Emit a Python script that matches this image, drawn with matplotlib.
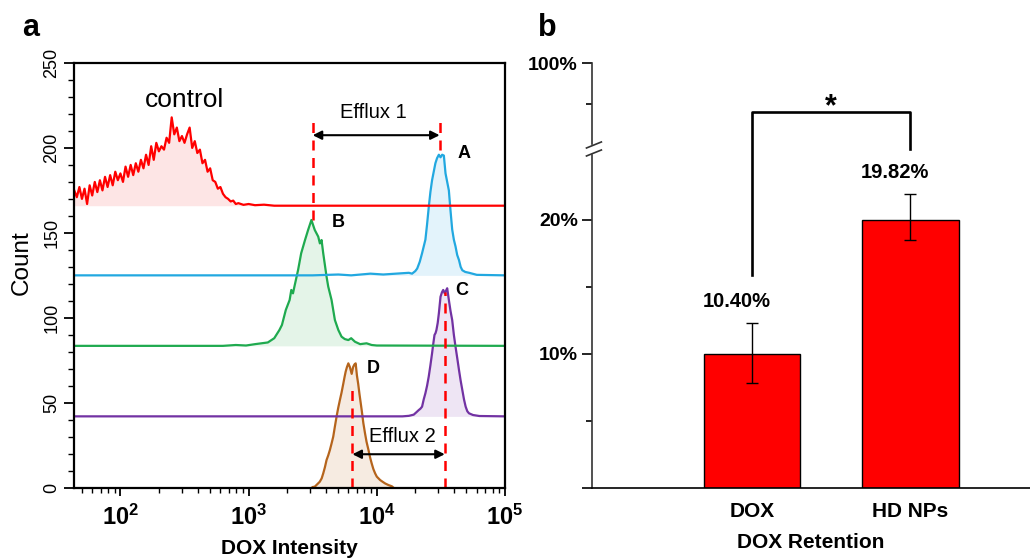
import numpy as np
import matplotlib
matplotlib.use('Agg')
import matplotlib.pyplot as plt
from matplotlib.ticker import LogLocator, NullFormatter

plt.rcParams['font.family'] = ['Liberation Sans', 'DejaVu Sans']
plt.rcParams['mathtext.fontset'] = 'custom'
plt.rcParams['mathtext.rm'] = 'Liberation Sans:bold'
plt.rcParams['mathtext.it'] = 'Liberation Sans:bold'
plt.rcParams['mathtext.bf'] = 'Liberation Sans:bold'

# ---- panel a: flow cytometry histograms (x given as log10 of intensity) ----
control_log = [1.64, 1.66, 1.68, 1.70, 1.72, 1.74, 1.76, 1.78, 1.80, 1.82,
               1.84, 1.86, 1.88, 1.90, 1.92, 1.94, 1.96, 1.98, 2.00, 2.02,
               2.04, 2.06, 2.08, 2.10, 2.12, 2.14, 2.16, 2.18, 2.20, 2.22,
               2.24, 2.26, 2.28, 2.30, 2.32, 2.34, 2.36, 2.38, 2.40, 2.42,
               2.44, 2.46, 2.48, 2.50, 2.52, 2.54, 2.56, 2.58, 2.60, 2.62,
               2.64, 2.66, 2.68, 2.70, 2.72, 2.74, 2.76, 2.78, 2.80, 2.82,
               2.84, 2.86, 2.88, 2.90, 2.92, 2.96, 3.00, 3.05, 3.12, 3.20, 5.00]
control_count = [175, 171, 177, 170, 176, 167, 178, 172, 180, 174,
                 181, 175, 183, 177, 184, 178, 186, 181, 185, 180,
                 189, 183, 190, 184, 191, 186, 193, 188, 196, 190,
                 201, 193, 203, 198, 201, 199, 206, 203, 218, 208,
                 212, 204, 207, 203, 208, 212, 200, 204, 197, 199,
                 191, 193, 186, 188, 181, 180, 176, 177, 173, 171,
                 170, 168.5, 169, 167, 167.5, 166.5, 167, 166.3, 166.6, 166, 166]
control_base = 166

a_log = [1.64, 3.50, 3.70, 3.80, 3.95, 4.05, 4.15, 4.25, 4.275, 4.30, 4.315,
         4.335, 4.353, 4.366, 4.379, 4.392, 4.405, 4.418, 4.431, 4.444, 4.457,
         4.470, 4.484, 4.497, 4.510, 4.523, 4.536, 4.549, 4.562, 4.575, 4.588,
         4.601, 4.614, 4.627, 4.641, 4.654, 4.667, 4.69, 4.72, 4.745, 4.78, 5.00]
a_count = [125, 125, 125.5, 125, 126, 125.5, 126, 126.5, 126, 127.5, 129,
           133, 138, 142, 146, 155, 165, 174, 181, 186, 191,
           194, 196, 194.5, 196, 195.5, 185, 180, 175, 163, 152,
           146, 142, 137, 134, 130, 128, 127, 126.5, 126, 125.3, 125]
a_base = 125

b_log = [1.64, 2.80, 2.90, 2.98, 3.05, 3.10, 3.15, 3.20, 3.24, 3.26, 3.29,
         3.32, 3.333, 3.346, 3.36, 3.386, 3.41, 3.44, 3.464, 3.49, 3.503,
         3.516, 3.543, 3.556, 3.569, 3.582, 3.608, 3.621, 3.647, 3.673, 3.70,
         3.725, 3.75, 3.778, 3.80, 3.83, 3.87, 3.92, 3.96, 4.00, 5.00]
b_count = [83.5, 83.5, 84, 83.7, 84.5, 85, 85.5, 88, 92.8, 95.8, 104.6,
           110.5, 116.4, 114.4, 119.3, 128.2, 138, 145.8, 151.7, 157.6, 154.6,
           151.7, 147.8, 143.8, 145.8, 138, 124.2, 118.4, 110.5, 98.7, 92.8,
           88.9, 87.5, 86.9, 88, 85.9, 84.5, 85, 84, 83.7, 83.5]
b_base = 83.5

c_log = [1.64, 4.20, 4.25, 4.288, 4.31, 4.327, 4.34, 4.353, 4.366, 4.379,
         4.392, 4.405, 4.418, 4.431, 4.44, 4.45, 4.458, 4.465, 4.475, 4.484,
         4.497, 4.508, 4.518, 4.53, 4.54, 4.549, 4.562, 4.575, 4.588, 4.601,
         4.614, 4.628, 4.641, 4.654, 4.667, 4.68, 4.693, 4.706, 4.719, 4.75,
         4.80, 5.00]
c_count = [42, 42, 42.3, 43, 44.5, 45.7, 46.5, 47.7, 52, 55.6,
           60, 65.4, 72, 79.1, 84.5, 89.9, 91, 92.8, 97, 102.6,
           112.4, 115, 116.4, 114.4, 116, 117.4, 110.5, 104, 98.7, 90,
           83, 76, 69.3, 63, 57.5, 52, 47.7, 45, 43.8, 42.8,
           42.2, 42]
c_base = 42

d_log = [3.50, 3.516, 3.535, 3.555, 3.57, 3.582, 3.595, 3.608, 3.621, 3.634,
         3.647, 3.66, 3.673, 3.686, 3.699, 3.712, 3.725, 3.739, 3.748, 3.757,
         3.767, 3.778, 3.79, 3.804, 3.815, 3.825, 3.835, 3.845, 3.855, 3.865,
         3.882, 3.895, 3.908, 3.92, 3.935, 3.947, 3.96, 3.973, 3.987, 4.00,
         4.026, 4.045, 4.065, 4.09, 4.118, 4.13]
d_count = [0.4, 0.6, 2, 3.5, 5.5, 8.4, 12, 16.3, 19, 22.2,
           26, 30, 36, 41.8, 47, 51.6, 56, 61.4, 65, 68.3,
           71, 73.2, 71, 67, 71, 72.5, 73.2, 66, 61, 55,
           45.7, 38, 32, 27, 22.2, 18, 14.3, 11, 8.4, 6.5,
           4.5, 3.5, 2.5, 1.6, 0.8, 0]
d_base = 0

curve_labels = ['A', 'B', 'C', 'D']
label_log = [4.68, 3.70, 4.66, 3.97]
label_count = [197, 156, 116, 70]

efflux1_log = [3.50, 4.49]
efflux1_top = [215, 215]
efflux1_bottom = [157.5, 199]
efflux1_arrow = 207.5
efflux2_log = [3.81, 4.53]
efflux2_top = [61.6, 115]
efflux2_arrow = 19.7

# ---- panel b: retention bars ----
groups = ['DOX', 'HD NPs']
retention = [10.0, 20.0]
err_low = [2.2, 1.5]
err_high = [2.3, 1.9]
value_labels = ['10.40%', '19.82%']
bracket_bottom = [15.9, 37.0]
bracket_top = 70.0


def fwd(v):
    v = np.asarray(v, dtype=float)
    return np.where(v <= 25, v, np.where(v <= 50, 25 + (v - 25) * 0.024,
                                         25.6 + (v - 50) * 0.1214))


def inv(u):
    u = np.asarray(u, dtype=float)
    return np.where(u <= 25, u, np.where(u <= 25.6, 25 + (u - 25) / 0.024,
                                         50 + (u - 25.6) / 0.1214))


fig = plt.figure(figsize=(10.3, 5.6), dpi=100)
ax = fig.add_axes([0.0721, 0.1291, 0.4182, 0.7584])
ax2 = fig.add_axes([0.5745, 0.1291, 0.4255, 0.7579])

curves = [
    (d_log, d_count, d_base, '#b5641c', '#f6ebe1'),
    (c_log, c_count, c_base, '#7232a3', '#eee5f4'),
    (b_log, b_count, b_base, '#1faa4f', '#e4f4e8'),
    (a_log, a_count, a_base, '#22a8e0', '#e3f3fb'),
    (control_log, control_count, control_base, '#ff0000', '#fde5e5'),
]
for lg, cnt, base, col, fcol in curves:
    x = 10 ** np.array(lg)
    ax.fill_between(x, base, cnt, color=fcol, lw=0)
    ax.plot(x, cnt, color=col, lw=1.6)

for i, t in enumerate(curve_labels):
    ax.text(10 ** label_log[i], label_count[i], t, fontsize=13,
            fontweight='bold', ha='center', va='center')

for lx, top, bot in zip(efflux1_log, efflux1_top, efflux1_bottom):
    ax.plot([10 ** lx, 10 ** lx], [bot, top], color='#ff0000', lw=1.8,
            ls=(0, (4, 3)))
for lx, top in zip(efflux2_log, efflux2_top):
    ax.plot([10 ** lx, 10 ** lx], [0, top], color='#ff0000', lw=1.8,
            ls=(0, (4, 3)))

arrow = dict(arrowstyle='<|-|>', color='black', lw=1.5, mutation_scale=13,
             shrinkA=0, shrinkB=0)
ax.annotate('', xy=(10 ** efflux1_log[1], efflux1_arrow),
            xytext=(10 ** efflux1_log[0], efflux1_arrow), arrowprops=arrow)
ax.annotate('', xy=(10 ** efflux2_log[1], efflux2_arrow),
            xytext=(10 ** efflux2_log[0], efflux2_arrow), arrowprops=arrow)
ax.text(10 ** 3.97, 221, 'Efflux 1', fontsize=14.5, ha='center', va='center')
ax.text(10 ** 4.2, 30, 'Efflux 2', fontsize=14.5, ha='center', va='center')
ax.text(10 ** 2.5, 228, 'control', fontsize=19, ha='center', va='center')

ax.set_xscale('log')
ax.set_xlim(10 ** 1.64, 1e5)
ax.set_ylim(0, 250)
ax.set_xticks([1e2, 1e3, 1e4, 1e5],
              ['$10^{2}$', '$10^{3}$', '$10^{4}$', '$10^{5}$'])
ax.xaxis.set_minor_locator(LogLocator(base=10, subs=np.arange(2, 10)))
ax.xaxis.set_minor_formatter(NullFormatter())
ax.set_yticks(np.arange(0, 251, 50))
ax.set_yticks(np.arange(0, 251, 10), minor=True)
ax.tick_params(axis='x', which='major', direction='out', length=6, width=1.3,
               labelsize=17, pad=6)
ax.tick_params(axis='x', which='minor', direction='out', length=3.5, width=1)
ax.tick_params(axis='y', which='major', direction='out', length=7, width=1.3,
               labelsize=13, pad=3)
ax.tick_params(axis='y', which='minor', direction='out', length=4, width=1)
for lab in ax.get_yticklabels():
    lab.set_rotation(90)
    lab.set_va('center')
for sp in ax.spines.values():
    sp.set_linewidth(1.6)
ax.set_xlabel('DOX Intensity', fontsize=15, fontweight='bold', labelpad=7)
ax.set_ylabel('Count', fontsize=17.5)
ax.yaxis.set_label_coords(-0.097, 0.53)

# ---- panel b ----
pos = np.arange(1, len(groups) + 1)
ax2.set_yscale('function', functions=(fwd, inv))
ax2.bar(pos, retention, width=0.61, color='#ff0000', edgecolor='black', lw=1)
ax2.errorbar(pos, retention, yerr=[err_low, err_high], fmt='none',
             ecolor='black', elinewidth=1, capsize=4, capthick=1)
for p, v, eh, t in zip(pos, retention, err_high, value_labels):
    ax2.text(p - 0.1, v + eh + 1.6, t, fontsize=14.5, fontweight='bold',
             ha='center', va='center')

ax2.plot([pos[0], pos[0], pos[1], pos[1]],
         [bracket_bottom[0], bracket_top, bracket_top, bracket_bottom[1]],
         color='black', lw=1.9)
ax2.annotate('*', xy=(pos.mean(), bracket_top), xytext=(0, -7.5),
             textcoords='offset points', fontsize=22, fontweight='bold',
             ha='center', va='bottom')

ax2.set_xlim(-0.015, 2.757)
ax2.set_ylim(0, 100)
ax2.set_yticks([0, 10, 20, 100], ['', '10%', '20%', '100%'])
ax2.set_yticks([5, 15, 75], minor=True)
ax2.tick_params(axis='y', which='major', direction='out', length=7, width=1.2,
                labelsize=14, pad=3)
ax2.tick_params(axis='y', which='minor', direction='out', length=4, width=1.2)
for lab in ax2.get_yticklabels():
    lab.set_fontweight('bold')
ax2.set_xticks(pos, groups)
ax2.tick_params(axis='x', length=0, labelsize=15, pad=10)
for lab in ax2.get_xticklabels():
    lab.set_fontweight('bold')
ax2.spines['top'].set_visible(False)
ax2.spines['right'].set_visible(False)
ax2.spines['left'].set_visible(False)
ax2.spines['bottom'].set_linewidth(1.2)
ax2.set_xlabel('DOX Retention', fontsize=15, fontweight='bold', labelpad=9)

# broken left spine with break marks
ax2.plot([0, 0], [0, 0.783], transform=ax2.transAxes, color='#333333',
         lw=1.2, clip_on=False)
ax2.plot([0, 0], [0.81, 1.0], transform=ax2.transAxes, color='#333333',
         lw=1.2, clip_on=False)
ax2.plot([-0.012, 0.022], [0.7816, 0.7957], transform=ax2.transAxes,
         color='#333333', lw=1.2, clip_on=False)
ax2.plot([-0.012, 0.022], [0.8004, 0.8146], transform=ax2.transAxes,
         color='#333333', lw=1.2, clip_on=False)

fig.text(0.0214, 0.936, 'a', fontsize=22, fontweight='bold')
fig.text(0.522, 0.936, 'b', fontsize=22, fontweight='bold')

fig.savefig('out.png', dpi=100)
